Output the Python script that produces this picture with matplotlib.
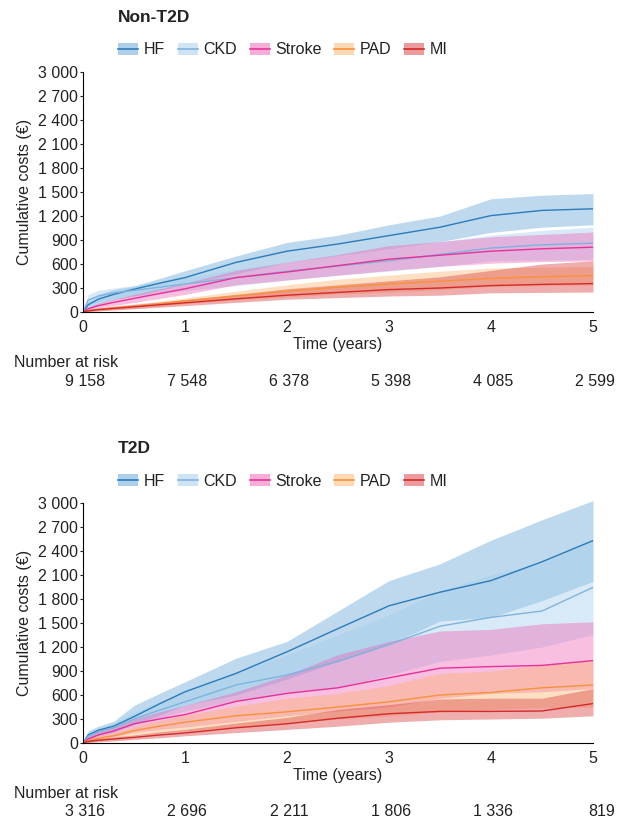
import numpy as np
import matplotlib
matplotlib.use('Agg')
import matplotlib.pyplot as plt
import matplotlib.transforms as mtransforms
from matplotlib.patches import Patch
from matplotlib.lines import Line2D
from matplotlib.ticker import FuncFormatter

plt.rcParams['font.family'] = ['Liberation Sans', 'DejaVu Sans']

# tiempo (anos)
t = [0, 0.05, 0.15, 0.3, 0.5, 0.75, 1, 1.5, 2, 2.5, 3, 3.5, 4, 4.5, 5]

grupos = ['HF', 'CKD', 'Stroke', 'PAD', 'MI']

# Non-T2D
nt2d_hf = [0, 90, 160, 220, 285, 360, 430, 620, 760, 850, 955, 1060, 1205, 1270, 1290]
nt2d_hf_lo = [0, 40, 100, 150, 200, 270, 350, 480, 620, 700, 785, 880, 995, 1060, 1090]
nt2d_hf_hi = [0, 140, 220, 280, 325, 420, 515, 700, 870, 960, 1090, 1200, 1415, 1460, 1480]
nt2d_ckd = [0, 150, 200, 240, 270, 310, 350, 430, 510, 575, 640, 720, 800, 840, 860]
nt2d_ckd_lo = [0, 80, 130, 170, 200, 230, 270, 330, 400, 460, 510, 570, 640, 650, 660]
nt2d_ckd_hi = [0, 220, 270, 300, 330, 380, 430, 530, 630, 700, 780, 880, 960, 1020, 1060]
nt2d_stroke = [0, 40, 80, 120, 170, 230, 290, 430, 500, 580, 660, 710, 760, 790, 810]
nt2d_stroke_lo = [0, 20, 50, 80, 120, 170, 220, 340, 400, 460, 520, 570, 610, 630, 640]
nt2d_stroke_hi = [0, 60, 110, 160, 220, 290, 360, 520, 620, 720, 830, 880, 940, 970, 1000]
nt2d_pad = [0, 15, 30, 50, 70, 100, 140, 200, 260, 310, 350, 385, 420, 440, 455]
nt2d_pad_lo = [0, 5, 15, 30, 50, 75, 105, 150, 190, 225, 250, 280, 320, 330, 340]
nt2d_pad_hi = [0, 25, 50, 75, 100, 135, 175, 260, 340, 410, 460, 510, 550, 560, 570]
nt2d_mi = [0, 15, 30, 45, 65, 90, 115, 165, 210, 245, 280, 300, 330, 345, 355]
nt2d_mi_lo = [0, 5, 15, 25, 40, 60, 80, 120, 160, 180, 200, 210, 240, 245, 250]
nt2d_mi_hi = [0, 30, 50, 70, 95, 125, 155, 220, 290, 340, 390, 440, 520, 600, 640]

# T2D
t2d_hf = [0, 100, 160, 210, 330, 490, 640, 870, 1140, 1430, 1715, 1885, 2030, 2265, 2530]
t2d_hf_lo = [0, 60, 100, 140, 230, 350, 470, 600, 800, 1020, 1230, 1525, 1570, 1780, 2020]
t2d_hf_hi = [0, 150, 210, 270, 470, 620, 765, 1060, 1270, 1650, 2030, 2240, 2535, 2790, 3030]
t2d_ckd = [0, 80, 140, 190, 300, 410, 515, 725, 850, 1020, 1230, 1460, 1570, 1650, 1945]
t2d_ckd_lo = [0, 40, 90, 130, 230, 310, 400, 530, 620, 700, 850, 1020, 1100, 1200, 1355]
t2d_ckd_hi = [0, 120, 180, 250, 380, 510, 640, 880, 1100, 1350, 1600, 1900, 2100, 2250, 2550]
t2d_stroke = [0, 50, 100, 150, 240, 300, 355, 520, 620, 690, 815, 935, 955, 970, 1030]
t2d_stroke_lo = [0, 20, 50, 80, 130, 170, 200, 270, 340, 400, 450, 560, 620, 640, 680]
t2d_stroke_hi = [0, 80, 150, 210, 300, 390, 470, 640, 850, 1105, 1270, 1400, 1420, 1490, 1515]
t2d_pad = [0, 30, 60, 90, 155, 210, 260, 340, 390, 450, 515, 600, 632, 690, 725]
t2d_pad_lo = [0, 10, 25, 45, 90, 120, 150, 200, 250, 300, 340, 390, 420, 440, 450]
t2d_pad_hi = [0, 50, 90, 130, 210, 280, 350, 460, 560, 620, 720, 870, 900, 980, 1040]
t2d_mi = [0, 20, 35, 50, 70, 100, 125, 190, 240, 310, 366, 395, 395, 400, 493]
t2d_mi_lo = [0, 5, 15, 25, 45, 65, 90, 130, 170, 210, 260, 290, 300, 310, 340]
t2d_mi_hi = [0, 35, 55, 75, 100, 140, 170, 250, 320, 420, 480, 550, 560, 560, 680]

risco_nt2d = ['9 158', '7 548', '6 378', '5 398', '4 085', '2 599']
risco_t2d = ['3 316', '2 696', '2 211', '1 806', '1 336', '819']

cor_linha = {'HF': '#2b7bba', 'CKD': '#7fb3de', 'Stroke': '#e8309a', 'PAD': '#f7913a', 'MI': '#d42a2a'}
cor_fill = {'HF': '#5da0d6', 'CKD': '#9fcbeb', 'Stroke': '#ee5fb5', 'PAD': '#fbb26a', 'MI': '#dc4a4a'}
alpha_fill = {'HF': 0.4, 'CKD': 0.4, 'Stroke': 0.4, 'PAD': 0.4, 'MI': 0.45}

dados = {
    'Non-T2D': {
        'HF': (nt2d_hf, nt2d_hf_lo, nt2d_hf_hi),
        'CKD': (nt2d_ckd, nt2d_ckd_lo, nt2d_ckd_hi),
        'Stroke': (nt2d_stroke, nt2d_stroke_lo, nt2d_stroke_hi),
        'PAD': (nt2d_pad, nt2d_pad_lo, nt2d_pad_hi),
        'MI': (nt2d_mi, nt2d_mi_lo, nt2d_mi_hi),
    },
    'T2D': {
        'HF': (t2d_hf, t2d_hf_lo, t2d_hf_hi),
        'CKD': (t2d_ckd, t2d_ckd_lo, t2d_ckd_hi),
        'Stroke': (t2d_stroke, t2d_stroke_lo, t2d_stroke_hi),
        'PAD': (t2d_pad, t2d_pad_lo, t2d_pad_hi),
        'MI': (t2d_mi, t2d_mi_lo, t2d_mi_hi),
    },
}

W, H = 619, 823
fig = plt.figure(figsize=(W / 100, H / 100), dpi=100)


def fmt_mil(v, pos):
    return f'{int(v):,}'.replace(',', ' ')


def painel(nome, y0_px, risco):
    # y0_px = pixel do valor 0, y do 3000 = y0_px - 240
    ax = fig.add_axes([83 / W, 1 - y0_px / H, 510 / W, 240 / H])
    for g in grupos:
        m, lo, hi = dados[nome][g]
        ax.fill_between(t, lo, hi, color=cor_fill[g], alpha=alpha_fill[g], linewidth=0, clip_on=False)
    for g in grupos:
        m, lo, hi = dados[nome][g]
        ax.plot(t, m, color=cor_linha[g], lw=1)
    ax.set_xlim(0, 5)
    ax.set_ylim(0, 3000)
    ax.set_yticks(np.arange(0, 3001, 300))
    ax.yaxis.set_major_formatter(FuncFormatter(fmt_mil))
    ax.set_xticks(range(6))
    ax.spines['top'].set_visible(False)
    ax.spines['right'].set_visible(False)
    ax.spines['left'].set_linewidth(0.8)
    ax.spines['bottom'].set_linewidth(0.8)
    ax.tick_params(axis='y', length=2.5, width=0.8, pad=1, labelsize=11.5, colors='#222222')
    ax.tick_params(axis='x', length=0, pad=6, labelsize=11.5, colors='#222222')
    ax.set_xlabel('Time (years)', fontsize=11.5, labelpad=1, color='#222222')
    ax.set_ylabel('Cumulative costs (€)', fontsize=11.5, labelpad=4, color='#222222')

    fig.text(118 / W, 1 - (y0_px - 294) / H, nome, fontsize=12.5, fontweight='bold',
             va='center', ha='left', color='#222222')

    handles = []
    for g in grupos:
        p = Patch(facecolor=cor_fill[g], alpha=alpha_fill[g] + 0.1, edgecolor='none')
        ln = Line2D([], [], color=cor_linha[g], lw=1.2)
        handles.append((p, ln))
    fig.legend(handles, grupos, loc='center left', bbox_to_anchor=(118 / W, 1 - (y0_px - 262) / H),
               ncol=5, frameon=False, fontsize=11.5, handlelength=1.25, handleheight=0.8,
               handletextpad=0.35, columnspacing=0.8, borderpad=0, borderaxespad=0,
               labelcolor='#222222')

    fig.text(14 / W, 1 - (y0_px + 50) / H, 'Number at risk', fontsize=11.5, va='center',
             ha='left', color='#222222')
    trans = mtransforms.blended_transform_factory(ax.transData, fig.transFigure)
    trans = trans + mtransforms.ScaledTranslation(22 / 100, 0, fig.dpi_scale_trans)
    for i, r in enumerate(risco):
        ax.text(i, 1 - (y0_px + 69) / H, r, transform=trans, fontsize=11.5, ha='right',
                va='center', color='#222222')
    return ax


painel('Non-T2D', 312, risco_nt2d)
painel('T2D', 743, risco_t2d)

fig.savefig('out.png', dpi=100)
